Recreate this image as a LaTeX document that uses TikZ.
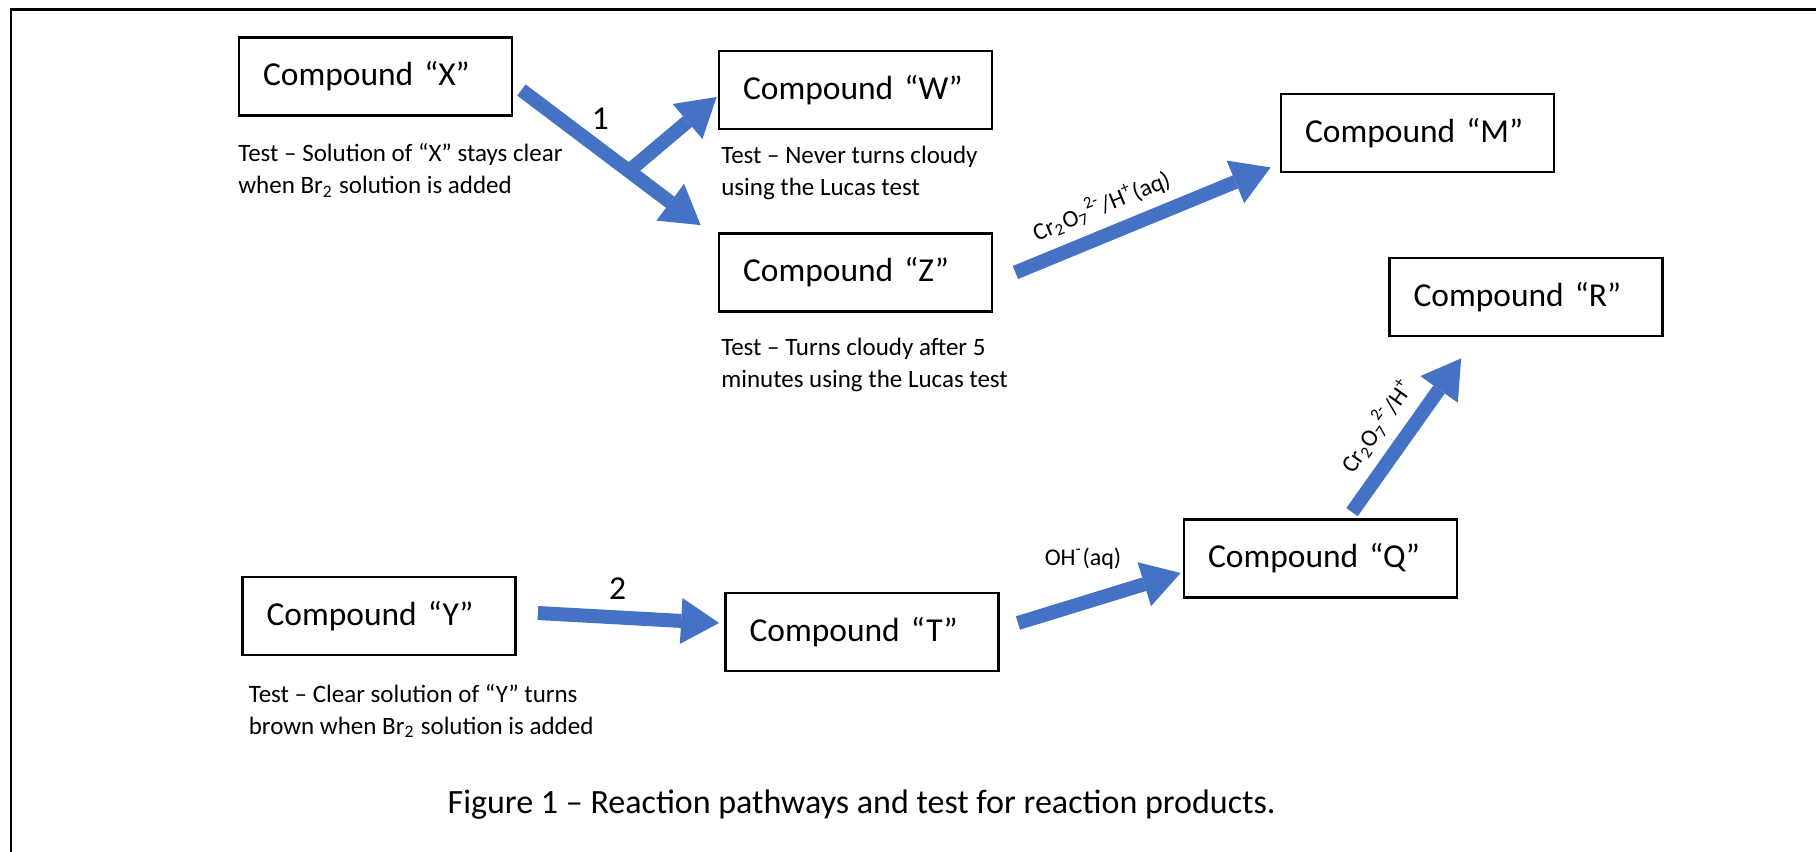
\documentclass[tikz,border=0pt]{standalone}
\usepackage{fontspec}
\setmainfont{Carlito}
\usepackage{tikz}
\usetikzlibrary{arrows.meta,positioning,calc}
\definecolor{rxnblue}{HTML}{4472C4}

\begin{document}
\begin{tikzpicture}[
    font=\fontsize{0.335cm}{0.4cm}\selectfont,
    compound/.style={rectangle, draw=black, line width=0.8pt, minimum height=0.78cm, text width=2.25cm, inner xsep=0.24cm, inner ysep=0pt, align=left},
    test/.style={font=\fontsize{0.25cm}{0.32cm}\selectfont, align=left, inner sep=0pt},
    reagent/.style={font=\fontsize{0.24cm}{0.28cm}\selectfont, text=black, inner sep=0pt},
    num/.style={text=black, inner sep=0pt},
    rxn/.style={rxnblue, line width=0.14cm, -{Triangle[width=0.46cm, length=0.38cm, line width=0pt]}}
]
    \useasboundingbox (0,0) rectangle (18.16,-8.51);

    % page frame
    \draw[line width=0.025cm] (0.11,-8.7) -- (0.11,-0.095) -- (18.3,-0.095);

    % --- Top: pathway 1 ---
    \node[compound] (cx) at (3.755,-0.765) {Compound “X”};
    \node[compound] (cw) at (8.555,-0.90) {Compound “W”};
    \node[compound] (cz) at (8.555,-2.725) {Compound “Z”};
    \node[compound] (cm) at (14.175,-1.33) {Compound “M”};

    \node[test, below right=0.26cm and 0cm of cx.south west] (xtest) {Test – Solution of “X” stays clear\\when Br\textsubscript{2} solution is added};
    \node[test, below right=0.15cm and 0.03cm of cw.south west] (wtest) {Test – Never turns cloudy\\using the Lucas test};
    \node[test, below right=0.25cm and 0.03cm of cz.south west] (ztest) {Test – Turns cloudy after 5\\minutes using the Lucas test};

    \draw[rxn] ([shift={(0.08,-0.135)}]cx.east) -- coordinate[pos=0.6] (fork) node[num, pos=0.44, above=0.13cm] {1} ([shift={(-0.17,0.07)}]cz.north west);
    \draw[rxn] (fork) -- ([shift={(-0.01,-0.07)}]cw.west);
    \draw[rxn] ([xshift=0.22cm]cz.east) -- node[reagent, sloped, pos=0.38, above=0.1cm] {Cr\textsubscript{2}O\textsubscript{7}\textsuperscript{2-}/H\textsuperscript{+}(aq)} ([shift={(-0.09,0.06)}]cm.south west);

    % --- Bottom: pathway 2 ---
    \node[compound] (cy) at (3.79,-6.16) {Compound “Y”};
    \node[compound] (ct) at (8.62,-6.32) {Compound “T”};
    \node[compound] (cq) at (13.205,-5.585) {Compound “Q”};
    \node[compound] (cr) at (15.26,-2.97) {Compound “R”};

    \node[test, below right=0.27cm and 0.07cm of cy.south west] (ytest) {Test – Clear solution of “Y” turns\\brown when Br\textsubscript{2} solution is added};

    \draw[rxn] ([shift={(0.21,0.03)}]cy.east) -- node[num, pos=0.44, above=0.105cm] {2} ([shift={(-0.05,0.09)}]ct.west);
    \draw[rxn] ([shift={(0.18,0.09)}]ct.east) -- node[reagent, pos=0.4, above=0.27cm] {OH\textsuperscript{-}(aq)} ([shift={(-0.02,-0.145)}]cq.west);
    \draw[rxn] ([shift={(0.315,0.06)}]cq.north) -- node[reagent, sloped, pos=0.45, above=0.1cm] {Cr\textsubscript{2}O\textsubscript{7}\textsuperscript{2-}/H\textsuperscript{+}} ([shift={(0.73,-0.21)}]cr.south west);

    % caption
    \node[font=\fontsize{0.34cm}{0.4cm}\selectfont, anchor=base west, inner sep=0pt] (fig) at (4.47,-8.13) {Figure 1 – Reaction pathways and test for reaction products.};

\end{tikzpicture}
\end{document}
